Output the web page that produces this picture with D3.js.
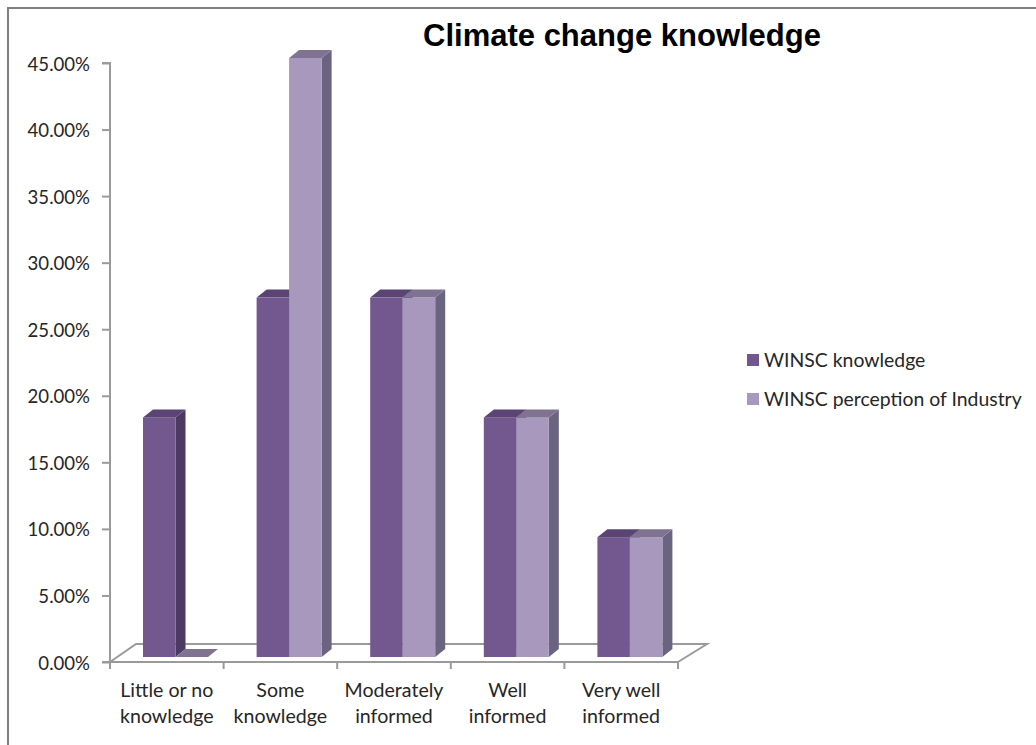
<!DOCTYPE html>
<html><head><meta charset="utf-8">
<script src="https://cdn.jsdelivr.net/npm/d3@7"></script>
<style>html,body{margin:0;padding:0;background:#fff;overflow:hidden}svg{display:block}</style>
</head><body><svg id="c" width="1036" height="745"></svg>
<script>
const categories = [["Little or no","knowledge"],["Some","knowledge"],["Moderately","informed"],["Well","informed"],["Very well","informed"]];
const seriesNames = ["WINSC knowledge","WINSC perception of Industry"];
const knowledge = [18, 27, 27, 18, 9];
const perception = [0, 45, 27, 18, 9];
const yTicks = [0,5,10,15,20,25,30,35,40,45];
const colors = [
  {front:"#73578f",top:"#5a4473",side:"#4d3a63"},
  {front:"#a898bd",top:"#7f7391",side:"#6b6480"}
];

const svg = d3.select("#c");
const font = "Lato, 'Open Sans', sans-serif";
const textColor = "#262626";
const axisColor = "#9a9a9a";

const x = d3.scaleBand().domain(d3.range(categories.length)).range([110,678]);
const y = d3.scaleLinear().domain([0,45]).range([662,63]);
const sub = d3.scaleBand().domain([0,1]).range([33,98]);

const depthX = 10, depthY = 8, lift = 5;
const floorDX = 29, floorDY = 18;

// frame
svg.append("path").attr("d","M8,745V8H1036").attr("fill","none").attr("stroke","#808080").attr("stroke-width",2);

// floor
const x0 = x.range()[0], x1 = x.range()[1], y0 = y(0);
svg.append("path")
  .attr("d",`M${x0},${y0}L${x0+floorDX-3},${y0-floorDY}H${x1+floorDX}L${x1},${y0}`)
  .attr("fill","none").attr("stroke",axisColor).attr("stroke-width",2);

// bars
const drawBar = (i, s, v) => {
  const c = colors[s];
  const l = x(i) + sub(s), r = l + sub.bandwidth();
  const b = y(0) - lift, t = y(v) - lift;
  const g = svg.append("g");
  if (v > 0) {
    g.append("path").attr("d",`M${r},${t}l${depthX},${-depthY}V${b-depthY}l${-depthX},${depthY}Z`).attr("fill",c.side);
    g.append("rect").attr("x",l).attr("y",t).attr("width",r-l).attr("height",b-t).attr("fill",c.front);
  }
  g.append("path").attr("d",`M${l},${t}l${depthX},${-depthY}H${r+depthX}l${-depthX},${depthY}Z`).attr("fill",c.top);
};
categories.forEach((_,i)=>{
  drawBar(i,0,knowledge[i]);
  drawBar(i,1,perception[i]);
});

// axes
const yAxis = d3.axisLeft(y).tickValues(yTicks).tickSize(8).tickFormat(d=>d3.format(".2f")(d)+"%");
const gy = svg.append("g").attr("transform",`translate(${x0},0)`).call(yAxis);
gy.selectAll("path,line").attr("stroke",axisColor).attr("stroke-width",2);
gy.select(".domain").attr("d",`M-8,${y(45)}H0V${y(0)}H-8`).attr("fill","none");
gy.selectAll("text").attr("x",-20).attr("dy","0.38em").attr("font-family",font).attr("font-size",18.6).attr("fill",textColor);

const xTickPos = d3.range(categories.length+1).map(i=>i<categories.length?x(i):x1);
svg.append("g").selectAll("line").data(xTickPos).join("line")
  .attr("x1",d=>d).attr("x2",d=>d).attr("y1",y0).attr("y2",y0+7)
  .attr("stroke",axisColor).attr("stroke-width",2);
svg.append("line").attr("x1",x0).attr("x2",x1).attr("y1",y0).attr("y2",y0).attr("stroke",axisColor).attr("stroke-width",2);

svg.append("g").selectAll("text").data(categories).join("text")
  .attr("font-family",font).attr("font-size",19.6).attr("fill",textColor).attr("text-anchor","middle")
  .each(function(d,i){
    d3.select(this).selectAll("tspan").data(d).join("tspan")
      .attr("x",x(i)+x.bandwidth()/2).attr("y",(e,j)=>697+j*26).text(e=>e);
  });

// title
svg.append("text").attr("x",622).attr("y",46).attr("text-anchor","middle")
  .attr("font-family","'Liberation Sans', Arial, sans-serif").attr("font-weight","bold")
  .attr("font-size",31).attr("fill","#000").text("Climate change knowledge");

// legend
const leg = svg.append("g").selectAll("g").data(seriesNames).join("g")
  .attr("transform",(d,i)=>`translate(747,${360+i*39})`);
leg.append("rect").attr("x",0).attr("y",-6).attr("width",12).attr("height",12).attr("fill",(d,i)=>colors[i].front);
leg.append("text").attr("x",17).attr("y",7).attr("font-family",font).attr("font-size",19.4).attr("fill",textColor).text(d=>d);
</script></body></html>
